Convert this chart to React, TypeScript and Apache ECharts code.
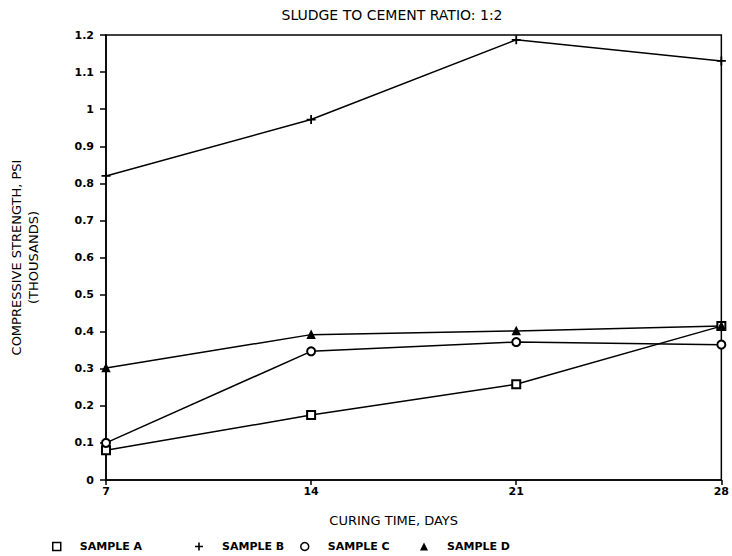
import React, { useEffect, useRef } from "react";
import * as echarts from "echarts";

const days = [7, 14, 21, 28];
const sampleA = [0.08, 0.175, 0.258, 0.415];
const sampleB = [0.82, 0.972, 1.187, 1.13];
const sampleC = [0.1, 0.347, 0.372, 0.365];
const sampleD = [0.302, 0.392, 0.402, 0.415];
const seriesNames = ["SAMPLE A", "SAMPLE B", "SAMPLE C", "SAMPLE D"];
const titleText = "SLUDGE TO CEMENT RATIO: 1:2";

const PLUS = "path://M4,0H6V4H10V6H6V10H4V6H0V4H4Z";
const FONT = "DejaVu Sans";

export default function App() {
  const ref = useRef<HTMLDivElement>(null);
  useEffect(() => {
    document.body.style.margin = "0";
    if (!ref.current) return;
    const chart = echarts.init(ref.current, undefined, { renderer: "svg" });
    const pair = (vals: number[]) => days.map((d, i) => [d, vals[i]]);
    const symbols = ["emptyRect", PLUS, "emptyCircle", "triangle"];
    const legendIcons = ["rect", PLUS, "circle", "triangle"];
    const legendFill = ["#fff", "#000", "#fff", "#000"];
    const legendBorder = [1.5, 0, 1.5, 0];
    const sizes = [8, 9, 8, 7];
    const data = [sampleA, sampleB, sampleC, sampleD];
    const legendLefts = [52, 195, 300, 420];
    chart.setOption({
      animation: false,
      backgroundColor: "#fff",
      title: {
        text: titleText,
        left: 387,
        textAlign: "center",
        top: 3,
        textStyle: { fontFamily: FONT, fontSize: 14, fontWeight: "normal", color: "#000" },
      },
      legend: seriesNames.map((n, i) => ({
        data: [
          {
            name: n,
            icon: legendIcons[i],
            itemStyle: { color: legendFill[i], borderColor: "#000", borderWidth: legendBorder[i] },
          },
        ],
        left: legendLefts[i],
        top: 541,
        padding: 0,
        itemWidth: 8,
        itemHeight: 8,
        textStyle: {
          fontFamily: FONT,
          fontSize: 11,
          fontWeight: "bold",
          color: "#000",
          padding: [0, 0, 0, 14],
        },
      })),
      grid: {
        left: 100,
        right: 9,
        top: 35,
        bottom: 76,
        show: true,
        borderColor: "#000",
        borderWidth: 1.5,
        backgroundColor: "transparent",
      },
      xAxis: {
        type: "value",
        min: 7,
        max: 28,
        interval: 7,
        name: "CURING TIME, DAYS",
        nameLocation: "middle",
        nameGap: 34,
        nameTextStyle: { fontFamily: FONT, fontSize: 13, color: "#000", padding: [0, 40, 0, 0] },
        axisLine: { lineStyle: { color: "#000", width: 1.5 } },
        axisTick: { show: true, length: 5, lineStyle: { color: "#000", width: 1.5 } },
        axisLabel: { fontFamily: FONT, fontSize: 11, fontWeight: "bold", color: "#000", margin: 6 },
        splitLine: { show: false },
      },
      yAxis: {
        type: "value",
        min: 0,
        max: 1.2,
        interval: 0.1,
        name: "COMPRESSIVE STRENGTH, PSI\n(THOUSANDS)",
        nameLocation: "middle",
        nameRotate: 90,
        nameGap: 64,
        nameTextStyle: { fontFamily: FONT, fontSize: 13, color: "#000", lineHeight: 17 },
        axisLine: { lineStyle: { color: "#000", width: 1.5 } },
        axisTick: { show: true, length: 6, lineStyle: { color: "#000", width: 1.5 } },
        axisLabel: {
          fontFamily: FONT,
          fontSize: 11,
          fontWeight: "bold",
          color: "#000",
          margin: 12,
          formatter: (v: number) => String(Math.round(v * 10) / 10),
        },
        splitLine: { show: false },
      },
      series: seriesNames.map((n, i) => ({
        name: n,
        type: "line",
        data: pair(data[i]),
        symbol: symbols[i],
        symbolSize: sizes[i],
        showSymbol: true,
        lineStyle: { color: "#000", width: 1.5 },
        itemStyle: { color: "#000", borderColor: "#000", borderWidth: i === 1 ? 0 : 1.5 },
      })),
    });
    return () => chart.dispose();
  }, []);
  return <div ref={ref} style={{ width: 732, height: 556 }} />;
}
